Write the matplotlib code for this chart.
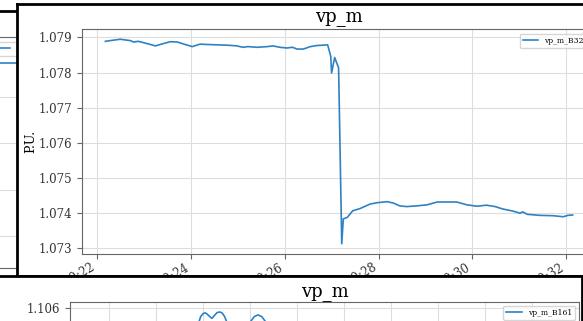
"""Recreate the overlapping vp_m plot windows screenshot."""
import matplotlib
matplotlib.use("Agg")
import matplotlib.pyplot as plt
import matplotlib.dates as mdates
from matplotlib.ticker import FormatStrFormatter, MultipleLocator
import pandas as pd

plt.rcParams["font.family"] = ["DejaVu Serif"]

# main window: vp_m at one bus
main_times = [
    "00:22:11", "00:22:17", "00:22:30", "00:22:43", "00:22:47", "00:22:53", "00:23:02", "00:23:15",
    "00:23:21", "00:23:34", "00:23:43", "00:23:50", "00:24:02", "00:24:12", "00:24:21", "00:24:34",
    "00:24:47", "00:24:59", "00:25:07", "00:25:13", "00:25:25", "00:25:38", "00:25:45", "00:25:54",
    "00:26:03", "00:26:10", "00:26:16", "00:26:24", "00:26:33", "00:26:41", "00:26:49", "00:26:55",
    "00:26:59", "00:27:00", "00:27:04", "00:27:09", "00:27:13", "00:27:15", "00:27:20", "00:27:27",
    "00:27:36", "00:27:49", "00:27:58", "00:28:11", "00:28:19", "00:28:27", "00:28:36", "00:28:49",
    "00:29:02", "00:29:15", "00:29:27", "00:29:40", "00:29:53", "00:30:06", "00:30:18", "00:30:29",
    "00:30:39", "00:30:52", "00:31:01", "00:31:04", "00:31:10", "00:31:26", "00:31:43", "00:31:56",
    "00:32:02", "00:32:08",
]
main_vals = [
    1.07889, 1.07891, 1.07895, 1.07891, 1.07887, 1.07889, 1.07884, 1.07876, 1.07880, 1.07888,
    1.07887, 1.07882, 1.07874, 1.07881, 1.07880, 1.07879, 1.07878, 1.07876, 1.07872, 1.07874,
    1.07872, 1.07874, 1.07876, 1.07872, 1.07870, 1.07872, 1.07867, 1.07867, 1.07874, 1.07877,
    1.07878, 1.07879, 1.07846, 1.07799, 1.07843, 1.07813, 1.07312, 1.07383, 1.07387, 1.07406,
    1.07412, 1.07425, 1.07429, 1.07432, 1.07428, 1.07420, 1.07418, 1.07420, 1.07423, 1.07431,
    1.07431, 1.07431, 1.07423, 1.07419, 1.07422, 1.07418, 1.07411, 1.07405, 1.07399, 1.07403,
    1.07396, 1.07393, 1.07392, 1.07389, 1.07393, 1.07394,
]
main_label = "vp_m_B32"

# bottom window (only its top edge is visible)
bot_minutes = [0.0, 1.0, 1.72, 1.91, 1.95, 2.00, 2.04, 2.08, 2.13, 2.19, 2.25, 2.30, 2.36,
               2.41, 2.46, 2.51, 2.79, 3.02, 3.09, 3.17, 3.25, 3.32, 3.53, 5.0, 7.0, 10.0]
bot_vals = [1.1040, 1.1043, 1.1048, 1.10550, 1.10570, 1.10580, 1.10583, 1.10580, 1.10572,
            1.10564, 1.10575, 1.10584, 1.10586, 1.10582, 1.10570, 1.1055, 1.1049, 1.10555,
            1.10570, 1.10576, 1.10570, 1.10555, 1.1049, 1.1040, 1.1035, 1.1030]
bot_label = "vp_m_B161"

# window behind on the left (mostly hidden)
bg_x = [0.0, 10.0]
bg_vals = [3.73, 3.73]

W, H = 583, 321
LINE = "#2e82c4"
SPINE = "#666666"
GRID = "#dddddd"


def px(left, top, right, bottom):
    return [left / W, 1 - bottom / H, (right - left) / W, (bottom - top) / H]


def frame(fig, rect):
    ax = fig.add_axes(px(*rect))
    ax.set_xticks([])
    ax.set_yticks([])
    for s in ax.spines.values():
        s.set_color("black")
        s.set_linewidth(2)
    return ax


def style(ax):
    for s in ax.spines.values():
        s.set_color(SPINE)
        s.set_linewidth(0.8)
    ax.grid(True, color=GRID, linewidth=0.8)
    ax.tick_params(colors=SPINE, labelcolor="#333333", labelsize=8.5, length=3.5)


fig = plt.figure(figsize=(W / 100, H / 100), dpi=100)

# left background window
frame(fig, (-50, 11, 200, 400))
bg = fig.add_axes(px(-300, 37, 70, 268))
style(bg)
bg.plot(bg_x, bg_vals, color=LINE, linewidth=1.2, label="vp_m")
bg.set_xlim(0, 10)
bg.set_ylim(-0.68, 4.29)
bg.yaxis.set_major_locator(MultipleLocator(1))
bg.legend(loc="upper left", bbox_to_anchor=(-12 / W, 1 - 38 / H), bbox_transform=fig.transFigure,
          fontsize=5.5, frameon=True)

# main window
frame(fig, (17, 4, 640, 276))
ax = fig.add_axes(px(82, 29, 596, 254))
style(ax)
t = pd.to_datetime(["2021-01-01 " + s for s in main_times])
ax.plot(t, main_vals, color=LINE, linewidth=1.2, label=main_label)
ax.set_title("vp_m", fontsize=13)
ax.set_ylabel("P.U.", fontsize=9, labelpad=1)
ax.yaxis.set_major_locator(MultipleLocator(0.001))
ax.yaxis.set_major_formatter(FormatStrFormatter("%.3f"))
ax.xaxis.set_major_locator(mdates.MinuteLocator(byminute=range(0, 60, 2)))
ax.xaxis.set_major_formatter(mdates.DateFormatter("%H:%M"))
ax.tick_params(axis="x", pad=1.5)
plt.setp(ax.get_xticklabels(), rotation=30, ha="right")
ax.legend(loc="upper left", bbox_to_anchor=(516 / W, 1 - 30 / H), bbox_transform=fig.transFigure,
          fontsize=5.5, frameon=True)

# bottom window
frame(fig, (-10, 276, 582, 400))
bx = fig.add_axes(px(70, 302, 579, 542))
style(bx)
bx.plot(bot_minutes, bot_vals, color=LINE, linewidth=1.2, label=bot_label)
bx.set_title("vp_m", fontsize=13, pad=4)
bx.set_xlim(-0.83, 10.0)
bx.set_ylim(1.098, 1.1062)
bx.xaxis.set_major_locator(MultipleLocator(1))
bx.yaxis.set_major_locator(MultipleLocator(0.001))
bx.yaxis.set_major_formatter(FormatStrFormatter("%.3f"))
bx.legend(loc="upper right", fontsize=5.5, frameon=True)

fig.savefig("out.png", dpi=100)
